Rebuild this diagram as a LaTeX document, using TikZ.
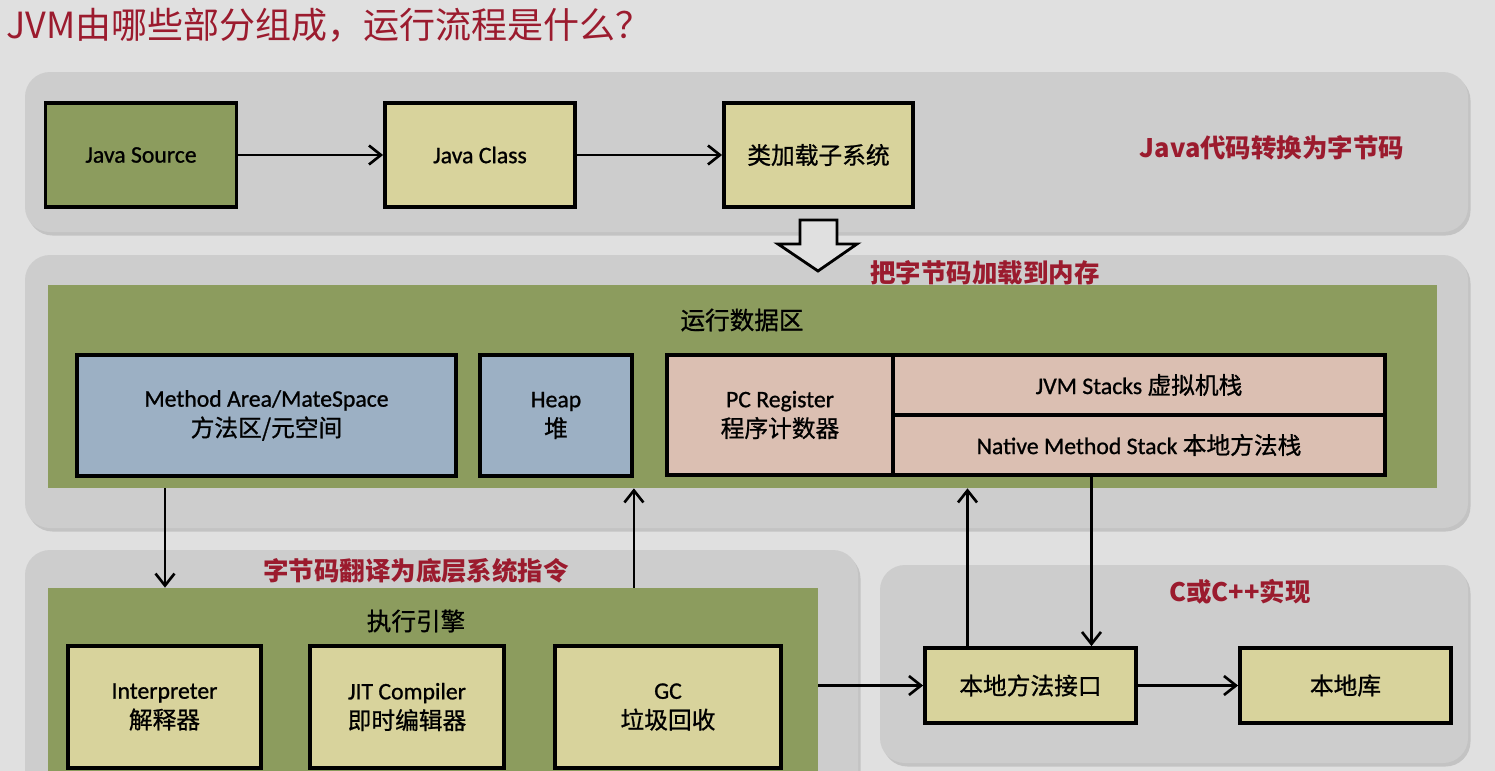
\documentclass[tikz,border=0pt]{standalone}
\usepackage{fontspec}
\setmainfont{Carlito}[FakeBold=0.9]
\newfontfamily\cjk{Noto Sans CJK SC}
\newfontfamily\cjkbox{Noto Sans CJK SC}[FakeBold=0.9]
\usetikzlibrary{positioning, arrows.meta, shadows}

\definecolor{pagegray}{HTML}{E0E0E0}
\definecolor{panelgray}{HTML}{CDCDCD}
\definecolor{olive}{HTML}{8C9C5E}
\definecolor{khaki}{HTML}{D8D39C}
\definecolor{steel}{HTML}{9CB0C4}
\definecolor{rose}{HTML}{DBBFB2}
\definecolor{darkred}{HTML}{9B1B2E}

\begin{document}
\begin{tikzpicture}[
    % one unit = one pixel of the slide
    x=0.02cm, y=-0.02cm,
    panel/.style={fill=panelgray, rounded corners=0.5cm,
        drop shadow={shadow xshift=0.05cm, shadow yshift=-0.07cm, opacity=0.3}},
    area/.style={fill=olive, inner sep=0pt},
    box/.style={draw=black, line width=2.2pt, align=center, inner sep=0pt,
        font=\fontsize{13.5}{17}\selectfont},
    note/.style={text=darkred, font=\cjk\bfseries\fontsize{14.5}{17}\selectfont},
    caption/.style={font=\cjkbox\fontsize{14}{17}\selectfont},
    flow/.style={line width=1.5pt, -{Straight Barb[length=2.4mm, width=3.8mm]}}
]

    % --- Page ---
    \clip (0,0) rectangle (1495,771);
    \fill[pagegray] (0,0) rectangle (1495,771);
    \node[anchor=west, text=darkred, font=\cjk\fontsize{20.5}{24}\selectfont] (title) at (0,25) {JVM由哪些部分组成，运行流程是什么？};

    % --- Panels ---
    \path[panel] (25,72) rectangle (1468,232);
    \path[panel] (25,255) rectangle (1468,528);
    \path[panel] (25,550) rectangle (858,800);
    \path[panel] (880,565) rectangle (1468,763);

    % --- Java code to bytecode ---
    \node[box, fill=olive, minimum width=3.82cm, minimum height=2.08cm] (src) at (141,155) {Java Source};
    \node[box, fill=khaki, minimum width=3.8cm, minimum height=2.08cm] (cls) at (480,155) {Java Class};
    \node[box, fill=khaki, minimum width=3.78cm, minimum height=2.08cm] (loader) at (818.5,155) {\cjkbox 类加载子系统};
    \node[note] (note1) at (1272,148) {Java代码转换为字节码};

    \draw[flow] (src) -- (cls);
    \draw[flow] (cls) -- (loader);

    % hollow arrow into memory
    \draw[line width=1.6pt, fill=pagegray, line join=miter]
        (800,220) -- (837,220) -- (837,244) -- (857,244) -- (818,271) -- (778,244) -- (800,244) -- cycle;
    \node[note] (note2) at (985,273) {把字节码加载到内存};

    % --- Runtime data area ---
    \node[area, minimum width=27.78cm, minimum height=4.06cm] (rda) at (742.5,386.5) {};
    \node[caption] (rdatitle) at (742,320) {运行数据区};

    \node[box, fill=steel, minimum width=7.58cm, minimum height=2.42cm] (method) at (266.5,415.5)
        {Method Area/MateSpace\\{\cjkbox 方法区/元空间}};
    \node[box, fill=steel, minimum width=3.04cm, minimum height=2.42cm] (heap) at (556,415.5)
        {Heap\\{\cjkbox 堆}};
    \node[box, fill=rose, minimum width=4.52cm, minimum height=2.4cm] (pc) at (780,415)
        {PC Register\\{\cjkbox 程序计数器}};
    \node[box, fill=rose, minimum width=9.84cm, minimum height=1.2cm] (jvms) at (1139,385)
        {JVM Stacks {\cjkbox 虚拟机栈}};
    \node[box, fill=rose, minimum width=9.84cm, minimum height=1.2cm] (nms) at (1139,445)
        {Native Method Stack {\cjkbox 本地方法栈}};

    % --- Execution engine ---
    \node[note] (note3) at (416,571) {字节码翻译为底层系统指令};
    \node[area, minimum width=15.4cm, minimum height=4.24cm] (exe) at (433,694) {};
    \node[caption] (exetitle) at (416,621) {执行引擎};

    \node[box, fill=khaki, minimum width=3.86cm, minimum height=2.44cm] (interp) at (164.5,707)
        {Interpreter\\{\cjkbox 解释器}};
    \node[box, fill=khaki, minimum width=3.88cm, minimum height=2.44cm] (jit) at (407,707)
        {JIT Compiler\\{\cjkbox 即时编辑器}};
    \node[box, fill=khaki, minimum width=4.52cm, minimum height=2.44cm] (gc) at (668,707)
        {GC\\{\cjkbox 垃圾回收}};

    % --- Native side ---
    \node[note] (note4) at (1240,592) {C或C++实现};
    \node[box, fill=khaki, minimum width=4.22cm, minimum height=1.5cm] (jni) at (1030.5,685.5) {\cjkbox 本地方法接口};
    \node[box, fill=khaki, minimum width=4.22cm, minimum height=1.5cm] (lib) at (1345.5,685.5) {\cjkbox 本地库};

    % --- Connectors ---
    \coordinate (maout) at (165,488);
    \draw[flow] (maout) -- (maout |- exe.north);
    \draw[flow] (heap.east |- exe.north) -- (heap.east |- rda.south);
    \draw[flow] (exe.east |- jni) -- (jni);
    \draw[flow] (jni) -- (lib);
    \draw[flow] ([xshift=-1.26cm]jni.north) -- ([xshift=-1.26cm]jni.north |- rda.south);
    \draw[flow] ([xshift=1.22cm]jni.north |- nms.south) -- ([xshift=1.22cm]jni.north);

\end{tikzpicture}
\end{document}
